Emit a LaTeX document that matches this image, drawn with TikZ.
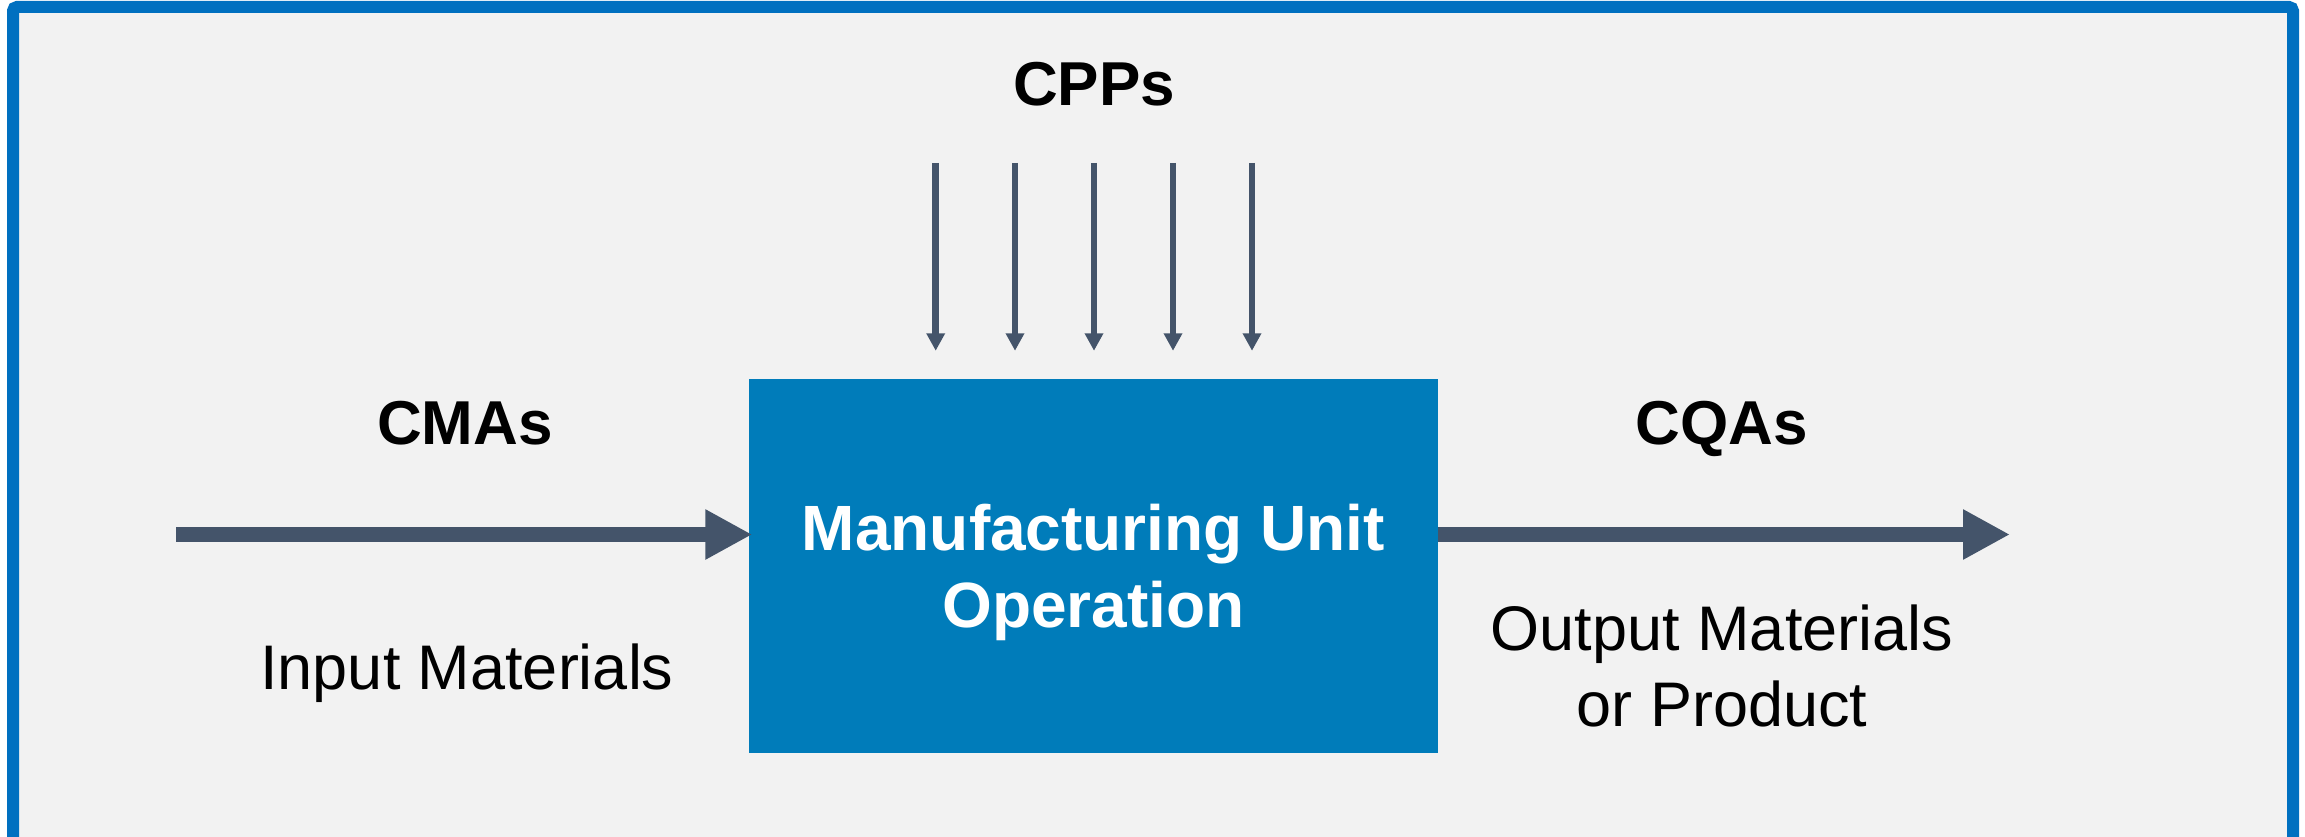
\documentclass[tikz,border=0pt]{standalone}
\usepackage{fontspec}
\setmainfont{Liberation Sans}
\usetikzlibrary{arrows.meta}
\definecolor{frameblue}{HTML}{0070C0}
\definecolor{bggray}{HTML}{F2F2F2}
\definecolor{boxblue}{HTML}{007CBA}
\definecolor{arrowgray}{HTML}{44546A}
\tikzset{
  bigarrow/.style={draw=arrowgray, line width=15.6pt, -{Triangle[length=47pt,width=47pt]}},
  smallarrow/.style={draw=arrowgray, line width=6.7pt, -{Triangle[length=17.5pt,width=17.7pt]}},
  boldlabel/.style={font=\bfseries\fontsize{62}{74}\selectfont, text=black, inner sep=0pt},
  plainlabel/.style={font=\fontsize{63}{76}\selectfont, text=black, inner sep=0pt, align=center},
  unitbox/.style={fill=boxblue, draw=none, minimum width=689pt, minimum height=374pt, inner sep=0pt,
    text=white, align=center, text depth=0pt, font=\bfseries\fontsize{64}{76.5}\selectfont}
}
\begin{document}
\begin{tikzpicture}[x=1pt,y=-1pt]
\useasboundingbox (0,0) rectangle (2305,837);
\begin{scope}
\clip (0,0) rectangle (2305,837);
\draw[draw=frameblue, fill=bggray, line width=12pt, rounded corners=4pt] (13,7) rectangle (2293,843);
\end{scope}
\node[unitbox] (box) at (1093.5,566) {Manufacturing Unit\\Operation};
\node[boldlabel, anchor=base] (cpp) at (1094,106) {CPPs};
\node[boldlabel, anchor=base] (cma) at (465,444) {CMAs};
\node[boldlabel, anchor=base] (cqa) at (1722,444) {CQAs};
\node[plainlabel, anchor=base] (inmat) at (467,689) {Input Materials};
\node[plainlabel, anchor=base] (outmat) at (1722,726.7) {Output Materials\\or Product};
\coordinate (inL) at (176,534.5);
\coordinate (outR) at (2010,534.5);
\draw[bigarrow, shorten >=-3.5pt] (inL) -- (box.west |- inL);
\draw[bigarrow] (box.east |- outR) -- (outR);
\foreach \i/\x in {1/935.7,2/1015,3/1094,4/1173,5/1252}{
  \coordinate (p\i) at (\x,163);
  \draw[smallarrow, shorten >=28pt] (p\i) -- (p\i |- box.north);
}
\end{tikzpicture}
\end{document}
